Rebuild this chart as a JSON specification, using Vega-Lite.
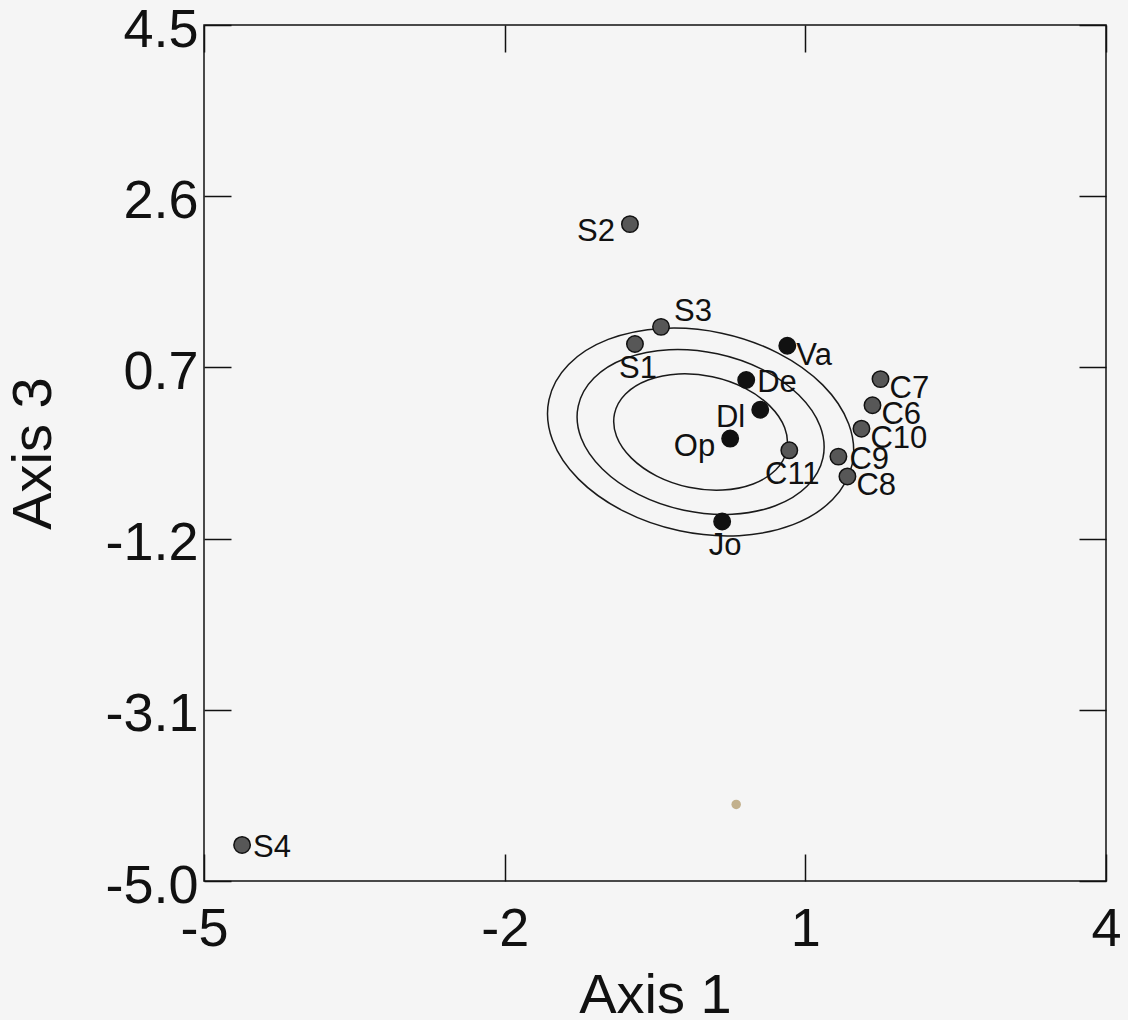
{
  "$schema": "https://vega.github.io/schema/vega-lite/v6.json",
  "width": 902,
  "height": 856,
  "autosize": {"type": "none"},
  "padding": {"left": 204, "top": 25, "right": 22, "bottom": 139},
  "background": "#f5f5f5",
  "config": {
    "view": {"stroke": "#111111", "strokeWidth": 1.5},
    "axis": {
      "domain": false,
      "grid": false,
      "tickColor": "#111111",
      "tickWidth": 1.5,
      "tickSize": -27,
      "labelFont": "Liberation Sans",
      "labelFontSize": 54,
      "labelColor": "#111111",
      "labelFlush": false,
      "labelOverlap": false,
      "labelBound": false,
      "titleFont": "Liberation Sans",
      "titleFontSize": 56,
      "titleFontWeight": "normal",
      "titleColor": "#111111"
    }
  },
  "datasets": {
    "pts": [
      {"name": "S2", "x": -0.75, "y": 2.29, "grp": "B"},
      {"name": "S3", "x": -0.44, "y": 1.15, "grp": "B"},
      {"name": "S1", "x": -0.70, "y": 0.96, "grp": "B"},
      {"name": "Va", "x": 0.82, "y": 0.94, "grp": "A"},
      {"name": "De", "x": 0.41, "y": 0.56, "grp": "A"},
      {"name": "Dl", "x": 0.55, "y": 0.23, "grp": "A"},
      {"name": "Op", "x": 0.25, "y": -0.09, "grp": "A"},
      {"name": "C11", "x": 0.84, "y": -0.22, "grp": "B"},
      {"name": "C9", "x": 1.33, "y": -0.29, "grp": "B"},
      {"name": "C8", "x": 1.42, "y": -0.51, "grp": "B"},
      {"name": "C10", "x": 1.56, "y": 0.02, "grp": "B"},
      {"name": "C6", "x": 1.67, "y": 0.28, "grp": "B"},
      {"name": "C7", "x": 1.75, "y": 0.57, "grp": "B"},
      {"name": "Jo", "x": 0.17, "y": -1.01, "grp": "A"},
      {"name": "S4", "x": -4.62, "y": -4.60, "grp": "B"}
    ],
    "speck": [
      {"x": 0.31, "y": -4.15}
    ],
    "ell": [
      {"e": "outer", "i": 0, "x": 1.468, "y": -0.374},
      {"e": "outer", "i": 1, "x": 1.272, "y": -0.767},
      {"e": "outer", "i": 2, "x": 0.877, "y": -1.045},
      {"e": "outer", "i": 3, "x": 0.340, "y": -1.167},
      {"e": "outer", "i": 4, "x": -0.255, "y": -1.114},
      {"e": "outer", "i": 5, "x": -0.818, "y": -0.893},
      {"e": "outer", "i": 6, "x": -1.263, "y": -0.540},
      {"e": "outer", "i": 7, "x": -1.523, "y": -0.106},
      {"e": "outer", "i": 8, "x": -1.558, "y": 0.340},
      {"e": "outer", "i": 9, "x": -1.362, "y": 0.733},
      {"e": "outer", "i": 10, "x": -0.967, "y": 1.011},
      {"e": "outer", "i": 11, "x": -0.430, "y": 1.133},
      {"e": "outer", "i": 12, "x": 0.165, "y": 1.080},
      {"e": "outer", "i": 13, "x": 0.728, "y": 0.859},
      {"e": "outer", "i": 14, "x": 1.173, "y": 0.506},
      {"e": "outer", "i": 15, "x": 1.433, "y": 0.072},
      {"e": "middle", "i": 0, "x": 1.176, "y": -0.305},
      {"e": "middle", "i": 1, "x": 1.019, "y": -0.616},
      {"e": "middle", "i": 2, "x": 0.701, "y": -0.835},
      {"e": "middle", "i": 3, "x": 0.269, "y": -0.930},
      {"e": "middle", "i": 4, "x": -0.211, "y": -0.885},
      {"e": "middle", "i": 5, "x": -0.665, "y": -0.709},
      {"e": "middle", "i": 6, "x": -1.025, "y": -0.427},
      {"e": "middle", "i": 7, "x": -1.237, "y": -0.083},
      {"e": "middle", "i": 8, "x": -1.266, "y": 0.271},
      {"e": "middle", "i": 9, "x": -1.109, "y": 0.582},
      {"e": "middle", "i": 10, "x": -0.791, "y": 0.801},
      {"e": "middle", "i": 11, "x": -0.359, "y": 0.896},
      {"e": "middle", "i": 12, "x": 0.121, "y": 0.851},
      {"e": "middle", "i": 13, "x": 0.575, "y": 0.675},
      {"e": "middle", "i": 14, "x": 0.935, "y": 0.393},
      {"e": "middle", "i": 15, "x": 1.147, "y": 0.049},
      {"e": "inner", "i": 0, "x": 0.814, "y": -0.220},
      {"e": "inner", "i": 1, "x": 0.704, "y": -0.439},
      {"e": "inner", "i": 2, "x": 0.479, "y": -0.594},
      {"e": "inner", "i": 3, "x": 0.175, "y": -0.661},
      {"e": "inner", "i": 4, "x": -0.162, "y": -0.630},
      {"e": "inner", "i": 5, "x": -0.482, "y": -0.506},
      {"e": "inner", "i": 6, "x": -0.735, "y": -0.307},
      {"e": "inner", "i": 7, "x": -0.884, "y": -0.064},
      {"e": "inner", "i": 8, "x": -0.904, "y": 0.186},
      {"e": "inner", "i": 9, "x": -0.794, "y": 0.405},
      {"e": "inner", "i": 10, "x": -0.569, "y": 0.560},
      {"e": "inner", "i": 11, "x": -0.265, "y": 0.627},
      {"e": "inner", "i": 12, "x": 0.072, "y": 0.596},
      {"e": "inner", "i": 13, "x": 0.392, "y": 0.472},
      {"e": "inner", "i": 14, "x": 0.645, "y": 0.273},
      {"e": "inner", "i": 15, "x": 0.794, "y": 0.030}
    ]
  },
  "resolve": {"axis": {"x": "independent", "y": "independent"}},
  "layer": [
    {
      "data": {"name": "ell"},
      "mark": {"type": "line", "interpolate": "cardinal-closed", "stroke": "#1a1a1a", "strokeWidth": 1.5},
      "encoding": {
        "x": {"field": "x", "type": "quantitative", "scale": {"domain": [-5, 4], "nice": false, "zero": false},
              "axis": {"orient": "top", "values": [-5, -2, 1, 4], "labels": false, "title": null}},
        "y": {"field": "y", "type": "quantitative", "scale": {"domain": [-5, 4.5], "nice": false, "zero": false},
              "axis": {"orient": "right", "values": [4.5, 2.6, 0.7, -1.2, -3.1, -5.0], "labels": false, "title": null}},
        "detail": {"field": "e"},
        "order": {"field": "i", "type": "quantitative"}
      }
    },
    {
      "data": {"name": "pts"},
      "mark": {"type": "point", "shape": "circle", "filled": true, "size": 270, "stroke": "#111111", "strokeWidth": 1.5, "opacity": 1},
      "encoding": {
        "x": {"field": "x", "type": "quantitative",
              "axis": {"orient": "bottom", "values": [-5, -2, 1, 4], "labelExpr": "(datum.value < 0 ? '-' : '') + abs(datum.value)", "labelPadding": 48, "title": "Axis 1", "titlePadding": 12}},
        "y": {"field": "y", "type": "quantitative",
              "axis": {"orient": "left", "values": [4.5, 2.6, 0.7, -1.2, -3.1, -5.0], "labelExpr": "(datum.value < 0 ? '-' : '') + format(abs(datum.value), '.1f')", "labelPadding": 33, "labelOffset": 5, "title": "Axis 3", "titlePadding": 42}},
        "fill": {"field": "grp", "type": "nominal", "scale": {"domain": ["A", "B"], "range": ["#111111", "#575757"]}, "legend": null}
      }
    },
    {
      "data": {"name": "speck"},
      "mark": {"type": "point", "shape": "circle", "filled": true, "size": 90, "color": "#c2b08c", "opacity": 1},
      "encoding": {
        "x": {"field": "x", "type": "quantitative", "axis": null},
        "y": {"field": "y", "type": "quantitative", "axis": null}
      }
    },
    {
      "data": {"name": "pts"},
      "transform": [{"filter": {"field": "name", "oneOf": ["Va", "C8", "C10", "C6", "C7"]}}],
      "mark": {"type": "text", "align": "left", "baseline": "middle", "dx": 9, "dy": 10, "font": "Liberation Sans", "fontSize": 31, "color": "#111111"},
      "encoding": {
        "x": {"field": "x", "type": "quantitative", "axis": null},
        "y": {"field": "y", "type": "quantitative", "axis": null},
        "text": {"field": "name"}
      }
    },
    {
      "data": {"name": "pts"},
      "transform": [{"filter": {"field": "name", "oneOf": ["C9", "S4", "De"]}}],
      "mark": {"type": "text", "align": "left", "baseline": "middle", "dx": 11, "dy": 3, "font": "Liberation Sans", "fontSize": 31, "color": "#111111"},
      "encoding": {
        "x": {"field": "x", "type": "quantitative", "axis": null},
        "y": {"field": "y", "type": "quantitative", "axis": null},
        "text": {"field": "name"}
      }
    },
    {
      "data": {"name": "pts"},
      "transform": [{"filter": {"field": "name", "oneOf": ["S2", "Dl", "Op"]}}],
      "mark": {"type": "text", "align": "right", "baseline": "middle", "dx": -15, "dy": 8, "font": "Liberation Sans", "fontSize": 31, "color": "#111111"},
      "encoding": {
        "x": {"field": "x", "type": "quantitative", "axis": null},
        "y": {"field": "y", "type": "quantitative", "axis": null},
        "text": {"field": "name"}
      }
    },
    {
      "data": {"name": "pts"},
      "transform": [{"filter": {"field": "name", "oneOf": ["S1", "C11", "Jo"]}}],
      "mark": {"type": "text", "align": "center", "baseline": "middle", "dx": 3, "dy": 25, "font": "Liberation Sans", "fontSize": 31, "color": "#111111"},
      "encoding": {
        "x": {"field": "x", "type": "quantitative", "axis": null},
        "y": {"field": "y", "type": "quantitative", "axis": null},
        "text": {"field": "name"}
      }
    },
    {
      "data": {"name": "pts"},
      "transform": [{"filter": {"field": "name", "oneOf": ["S3"]}}],
      "mark": {"type": "text", "align": "left", "baseline": "middle", "dx": 13, "dy": -15, "font": "Liberation Sans", "fontSize": 31, "color": "#111111"},
      "encoding": {
        "x": {"field": "x", "type": "quantitative", "axis": null},
        "y": {"field": "y", "type": "quantitative", "axis": null},
        "text": {"field": "name"}
      }
    }
  ]
}
